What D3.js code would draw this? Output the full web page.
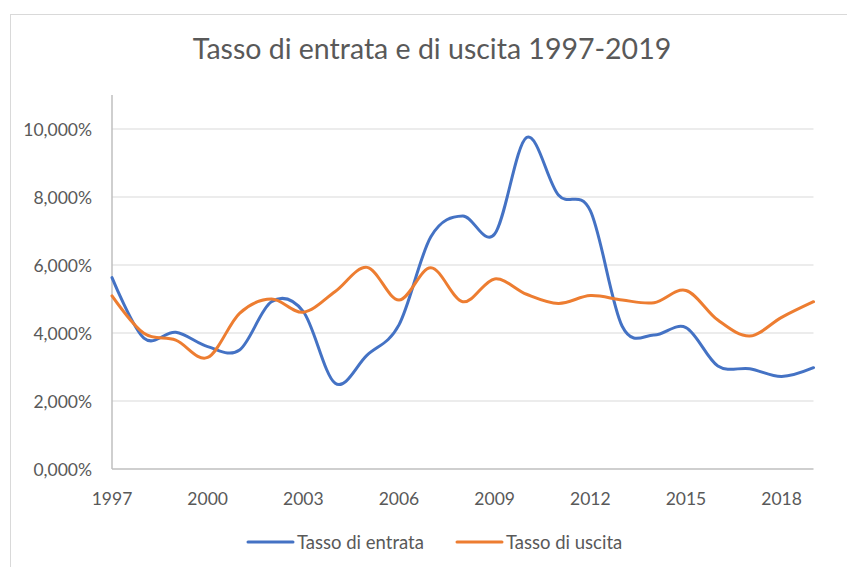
<!DOCTYPE html>
<html>
<head>
<meta charset="utf-8">
<script src="https://cdn.jsdelivr.net/npm/d3@7"></script>
<style>
  body { margin: 0; background: #fff; }
  text { font-family: Lato, "Open Sans", sans-serif; fill: #595959; }
</style>
</head>
<body>
<div id="chart"></div>
<script>
var years = d3.range(1997, 2020);
var entrata = [5.63, 3.85, 4.02, 3.6, 3.5, 4.92, 4.63, 2.52, 3.35, 4.24, 6.83, 7.44,
  6.91, 9.75, 8.06, 7.6, 4.2, 3.94, 4.16, 3.03, 2.95, 2.72, 2.98];
var uscita = [5.09, 3.99, 3.79, 3.28, 4.58, 5.0, 4.61, 5.22, 5.93, 4.97, 5.92, 4.92,
  5.59, 5.14, 4.87, 5.1, 4.97, 4.89, 5.25, 4.38, 3.91, 4.46, 4.92];
var yTicks = [0, 2, 4, 6, 8, 10];
var xTicks = [1997, 2000, 2003, 2006, 2009, 2012, 2015, 2018];
var seriesNames = ['Tasso di entrata', 'Tasso di uscita'];
var colors = ['#4472c4', '#ed7d31'];

var w = 847;
var h = 567;
var svg = d3.select('#chart').append('svg').attr('width', w).attr('height', h);

// chart border
svg.append('rect')
    .attr('x', 10.5).attr('y', 14.5)
    .attr('width', w).attr('height', h)
    .attr('fill', 'none').attr('stroke', '#d9d9d9');

var x = d3.scaleLinear().domain([1997, 2019]).range([112, 813.5]);
var y = d3.scaleLinear().domain([0, 11]).range([469, 95]);

// gridlines
svg.selectAll('.grid')
    .data(yTicks.slice(1))
    .enter()
    .append('line')
    .attr('x1', x(1997)).attr('x2', x(2019))
    .attr('y1', function (d) { return y(d); })
    .attr('y2', function (d) { return y(d); })
    .attr('stroke', '#d9d9d9').attr('stroke-width', 1);

// y labels
svg.selectAll('.ylab')
    .data(yTicks)
    .enter()
    .append('text')
    .attr('x', 92)
    .attr('y', function (d) { return y(d) + 6.5; })
    .attr('text-anchor', 'end')
    .style('font-size', '17.5px')
    .text(function (d) { return d + ',000%'; });

// axes lines
svg.append('line')
    .attr('x1', x(1997)).attr('x2', x(2019))
    .attr('y1', y(0)).attr('y2', y(0))
    .attr('stroke', '#bfbfbf').attr('stroke-width', 1.5);
svg.append('line')
    .attr('x1', x(1997)).attr('x2', x(1997))
    .attr('y1', y(0)).attr('y2', y(11))
    .attr('stroke', '#bfbfbf').attr('stroke-width', 1.5);

// x labels
svg.selectAll('.xlab')
    .data(xTicks)
    .enter()
    .append('text')
    .attr('x', function (d) { return x(d); })
    .attr('y', 505)
    .attr('text-anchor', 'middle')
    .style('font-size', '17.5px')
    .text(function (d) { return d; });

// lines
var line = d3.line()
    .x(function (d, i) { return x(years[i]); })
    .y(function (d) { return y(d); })
    .curve(d3.curveCardinal.tension(0));

[entrata, uscita].forEach(function (s, i) {
  svg.append('path')
      .datum(s)
      .attr('d', line)
      .attr('fill', 'none')
      .attr('stroke', colors[i])
      .attr('stroke-width', 3)
      .attr('stroke-linecap', 'round');
});

// title
svg.append('text')
    .attr('x', 432)
    .attr('y', 59)
    .attr('text-anchor', 'middle')
    .style('font-size', '28.5px')
    .text('Tasso di entrata e di uscita 1997-2019');

// legend
var legX = [248, 457];
seriesNames.forEach(function (n, i) {
  svg.append('line')
      .attr('x1', legX[i]).attr('x2', legX[i] + 45)
      .attr('y1', 542).attr('y2', 542)
      .attr('stroke', colors[i]).attr('stroke-width', 3)
      .attr('stroke-linecap', 'round');
  svg.append('text')
      .attr('x', legX[i] + 49)
      .attr('y', 548.5)
      .style('font-size', '18.5px')
      .text(n);
});
</script>
</body>
</html>
